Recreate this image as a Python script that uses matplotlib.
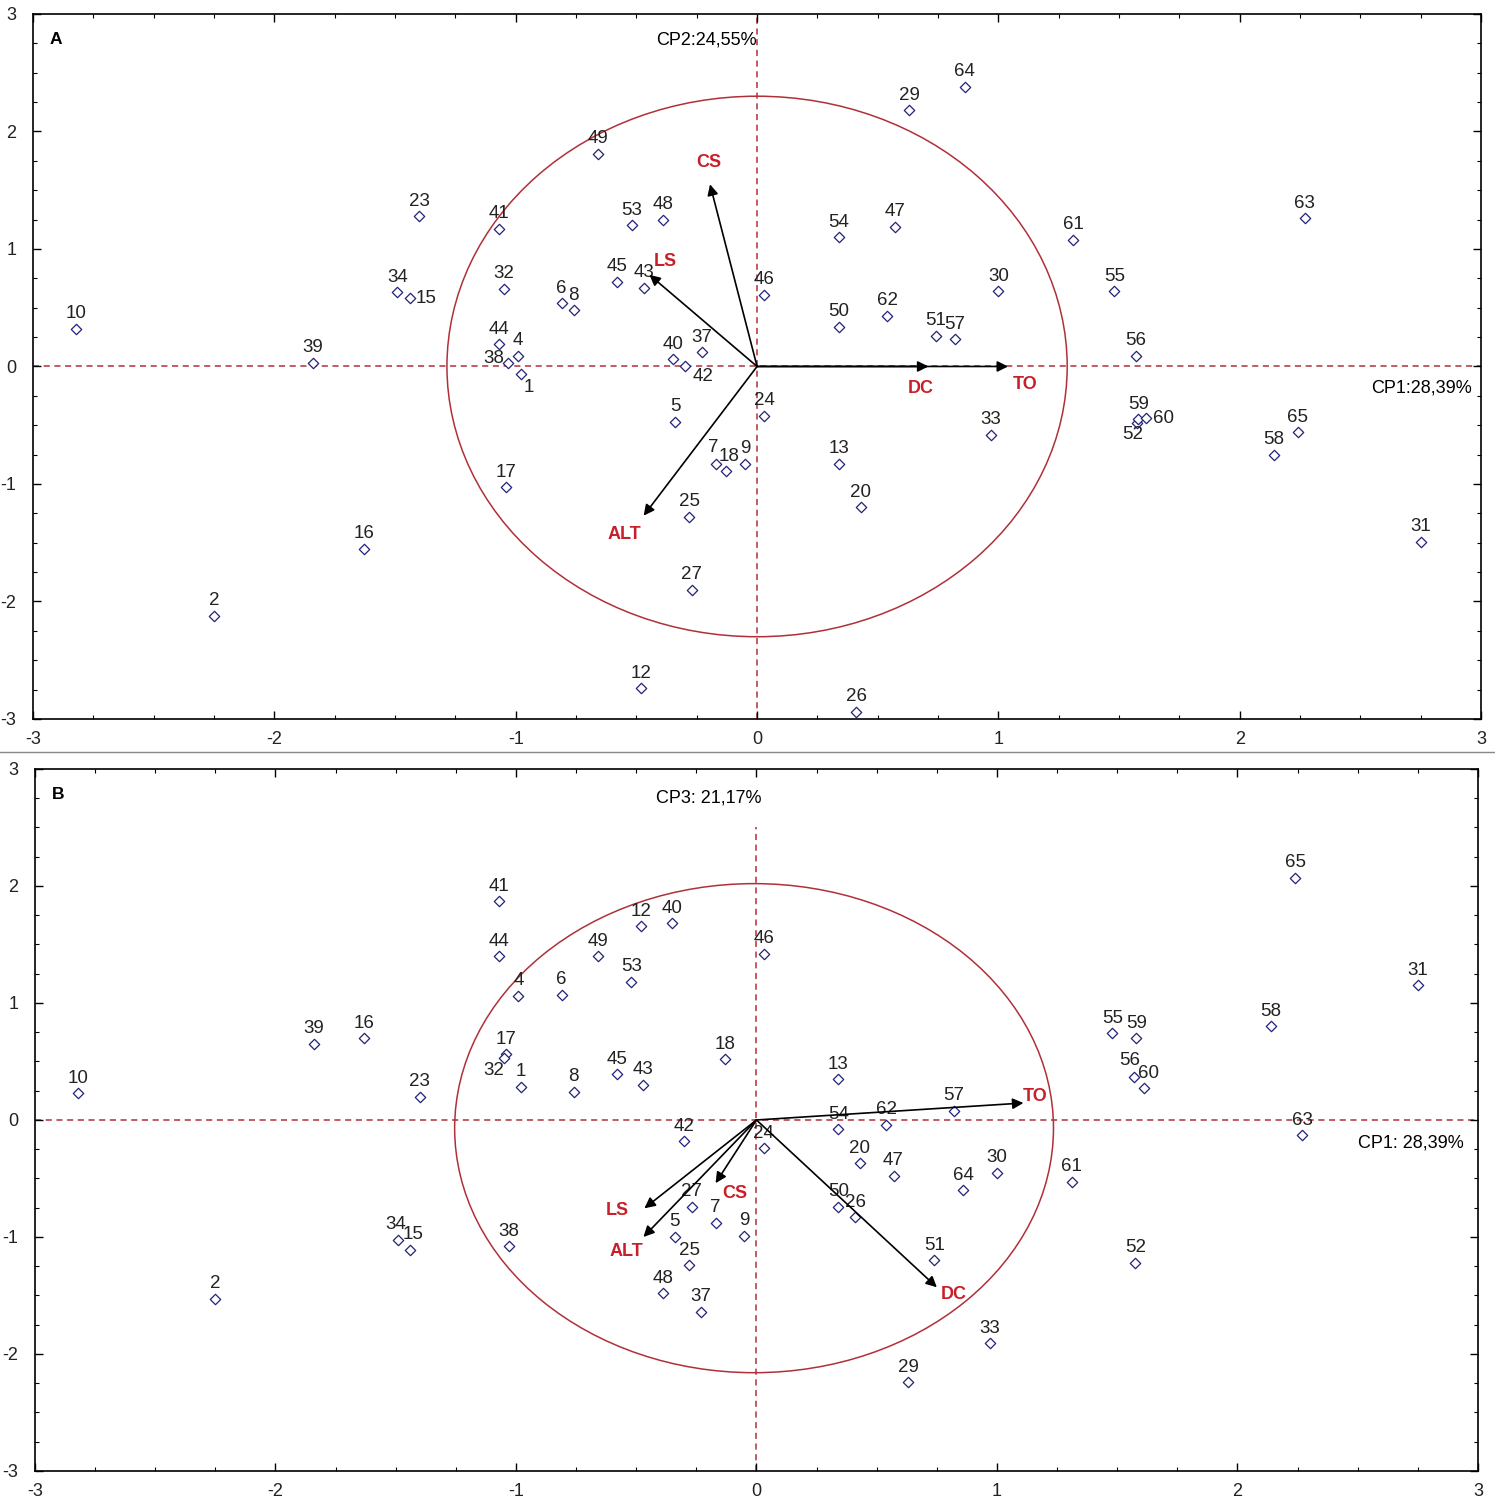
from matplotlib import pyplot as plt
from matplotlib.patches import Ellipse
from matplotlib.ticker import MultipleLocator
import numpy as np

# sample ids and scores
ids = [1, 2, 4, 5, 6, 7, 8, 9, 10, 12, 13, 15, 16, 17, 18, 20, 23, 24, 25, 26,
       27, 29, 30, 31, 32, 33, 34, 37, 38, 39, 40, 41, 42, 43, 44, 45, 46, 47,
       48, 49, 50, 51, 52, 53, 54, 55, 56, 57, 58, 59, 60, 61, 62, 63, 64, 65]
cp1 = [-0.98, -2.25, -0.99, -0.34, -0.81, -0.17, -0.76, -0.05, -2.82, -0.48,
       0.34, -1.44, -1.63, -1.04, -0.13, 0.43, -1.40, 0.03, -0.28, 0.41,
       -0.27, 0.63, 1.00, 2.75, -1.05, 0.97, -1.49, -0.23, -1.03, -1.84,
       -0.35, -1.07, -0.30, -0.47, -1.07, -0.58, 0.03, 0.57, -0.39, -0.66,
       0.34, 0.74, 1.575, -0.52, 0.34, 1.48, 1.57, 0.82, 2.14, 1.58,
       1.61, 1.31, 0.54, 2.27, 0.86, 2.24]
cp2 = [-0.06, -2.12, 0.09, -0.47, 0.54, -0.83, 0.48, -0.83, 0.32, -2.74,
       -0.83, 0.58, -1.55, -1.03, -0.89, -1.20, 1.28, -0.42, -1.28, -2.94,
       -1.90, 2.18, 0.64, -1.49, 0.66, -0.58, 0.63, 0.12, 0.03, 0.03,
       0.06, 1.17, 0.00, 0.67, 0.19, 0.72, 0.61, 1.19, 1.25, 1.81,
       0.34, 0.26, -0.48, 1.20, 1.10, 0.64, 0.09, 0.23, -0.75, -0.45,
       -0.44, 1.08, 0.43, 1.26, 2.38, -0.56]
cp3 = [0.285, -1.53, 1.06, -1.00, 1.07, -0.88, 0.24, -0.99, 0.23, 1.655,
       0.35, -1.11, 0.70, 0.56, 0.52, -0.37, 0.20, -0.24, -1.24, -0.83,
       -0.74, -2.24, -0.45, 1.15, 0.53, -1.91, -1.03, -1.64, -1.08, 0.65,
       1.68, 1.87, -0.18, 0.30, 1.40, 0.39, 1.42, -0.476, -1.48, 1.40,
       -0.74, -1.20, -1.22, 1.18, -0.08, 0.74, 0.37, 0.08, 0.80, 0.70,
       0.27, -0.53, -0.04, -0.13, -0.60, 2.07]

# variable vectors
var_names = ["CS", "LS", "ALT", "DC", "TO"]
load_a_x = [-0.195, -0.446, -0.47, 0.71, 1.04]
load_a_y = [1.55, 0.78, -1.27, 0.0, 0.0]
lab_a_x = [-0.20, -0.38, -0.55, 0.68, 1.11]
lab_a_y = [1.74, 0.89, -1.43, -0.19, -0.15]
load_b_x = [-0.17, -0.466, -0.47, 0.75, 1.11]
load_b_y = [-0.54, -0.755, -1.0, -1.43, 0.145]
lab_b_x = [-0.09, -0.58, -0.54, 0.82, 1.16]
lab_b_y = [-0.63, -0.77, -1.12, -1.49, 0.20]

# label offsets (pixels) for crowded points, default is straight above
offs_a = {15: (17, 0), 1: (8, -14), 38: (-15, 4), 42: (18, -10),
          52: (-4, -12), 60: (18, 0), 7: (-3, 16), 18: (3, 15)}
offs_b = {32: (-10, -13), 34: (-2, 16), 15: (3, 15), 56: (-4, 16), 60: (5, 15)}

plt.rcParams["font.family"] = ["Liberation Sans Narrow", "Liberation Sans", "DejaVu Sans"]

red = "#c8202a"
dark_red = "#b0303a"
mk_col = "#23237a"

fig = plt.figure(figsize=(14.95, 15.01), dpi=100)
ax_a = fig.add_axes([0.0221, 0.521, 0.9686, 0.4697])
ax_b = fig.add_axes([0.0234, 0.020, 0.9652, 0.4677])


def draw_panel(ax, ys, offs, lx, ly, tx, ty, ell, letter, ylab, xlab, vline_top):
    ax.set_xlim(-3, 3)
    ax.set_ylim(-3, 3)
    ax.axhline(0, color=dark_red, ls=(0, (4, 3)), lw=1.1, zorder=1)
    ax.plot([0, 0], [-3, vline_top], color=dark_red, ls=(0, (4, 3)), lw=1.1, zorder=1)
    ax.add_patch(Ellipse(ell[0], ell[1], ell[2], fill=False, ec=dark_red, lw=1.1, zorder=2))
    ax.scatter(cp1, ys, marker="D", s=28, facecolors="white", edgecolors=mk_col,
               linewidths=0.9, zorder=4)
    for i, n in enumerate(ids):
        dx, dy = offs.get(n, (0, 15))
        ax.annotate(str(n), (cp1[i], ys[i]), xytext=(dx, dy), textcoords="offset pixels",
                    ha="center", va="center", fontsize=13.5, color="#222222", zorder=5)
    for i, v in enumerate(var_names):
        ax.annotate("", xy=(lx[i], ly[i]), xytext=(0, 0),
                    arrowprops=dict(arrowstyle="-|>", color="black", lw=1.2,
                                    mutation_scale=16, shrinkA=0, shrinkB=0), zorder=6)
        ax.text(tx[i], ty[i], v, color=red, fontsize=13, fontweight="bold",
                ha="center", va="center", family=["Liberation Sans", "DejaVu Sans"], zorder=6)
    ax.text(-2.93, 2.78, letter, fontsize=12.5, fontweight="bold",
            family=["Liberation Sans", "DejaVu Sans"], ha="left", va="center")
    ax.text(ylab[0], ylab[1], ylab[2], fontsize=13, ha="center", va="center")
    ax.text(xlab[0], xlab[1], xlab[2], fontsize=13, ha="right", va="center")
    ax.set_xticks(np.arange(-3, 4, 1))
    ax.set_yticks(np.arange(-3, 4, 1))
    ax.set_xticklabels([str(t) for t in range(-3, 4)], family=["Liberation Sans"])
    ax.set_yticklabels([str(t) for t in range(-3, 4)], family=["Liberation Sans"])
    ax.xaxis.set_minor_locator(MultipleLocator(0.25))
    ax.yaxis.set_minor_locator(MultipleLocator(0.25))
    ax.tick_params(which="both", direction="in", top=True, right=True, labelsize=13,
                   labelcolor="#222222")
    ax.tick_params(which="major", length=6, width=1)
    ax.tick_params(which="minor", length=3, width=0.8)
    ax.tick_params(axis="y", pad=12)
    ax.tick_params(axis="x", pad=9)
    for s in ax.spines.values():
        s.set_linewidth(1.2)


draw_panel(ax_a, cp2, offs_a, load_a_x, load_a_y, lab_a_x, lab_a_y,
           ((0, 0), 2.57, 4.6), "A", (-0.21, 2.78, "CP2:24,55%"),
           (2.96, -0.18, "CP1:28,39%"), 3)
draw_panel(ax_b, cp3, offs_b, load_b_x, load_b_y, lab_b_x, lab_b_y,
           ((-0.01, -0.07), 2.49, 4.18), "B", (-0.2, 2.75, "CP3: 21,17%"),
           (2.94, -0.2, "CP1: 28,39%"), 2.5)

# thin separator between panels
fig.add_artist(plt.Line2D([0, 1], [1 - 752 / 1501] * 2, color="#888888", lw=1))

fig.savefig("out.png", dpi=100)
